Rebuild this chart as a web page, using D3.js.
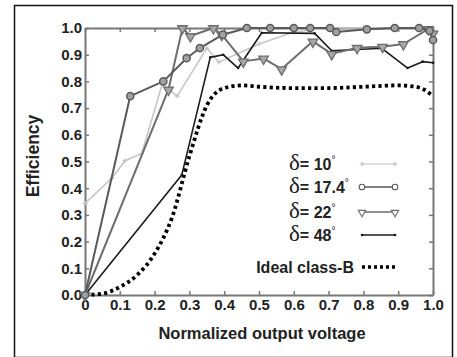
<!DOCTYPE html>
<html>
<head>
<meta charset="utf-8">
<script src="https://cdn.jsdelivr.net/npm/d3@7"></script>
<style>
  body { margin: 0; background: #fff; }
  svg { display: block; }
</style>
</head>
<body>
<div id="chart"></div>
<script>
// values
var xTicks = [0, 0.1, 0.2, 0.3, 0.4, 0.5, 0.6, 0.7, 0.8, 0.9, 1.0];
var xTickLabels = ["0", "0.1", "0.2", "0.3", "0.4", "0.5", "0.6", "0.7", "0.8", "0.9", "1.0"];
var yTicks = [0, 0.1, 0.2, 0.3, 0.4, 0.5, 0.6, 0.7, 0.8, 0.9, 1.0];
var yTickLabels = ["0.0", "0.1", "0.2", "0.3", "0.4", "0.5", "0.6", "0.7", "0.8", "0.9", "1.0"];

var d10x = [0, 0.077, 0.115, 0.163, 0.222, 0.265, 0.35, 0.385, 0.5, 0.6, 0.7, 0.8, 0.9, 1.0];
var d10y = [0.343, 0.437, 0.503, 0.53, 0.79, 0.745, 0.925, 0.872, 0.94, 0.985, 1.0, 1.0, 1.0, 1.0];

var d174x = [0, 0.13, 0.225, 0.292, 0.33, 0.396, 0.465, 0.532, 0.6, 0.647, 0.704, 0.722, 0.81, 0.89, 0.96, 0.99, 1.0];
var d174y = [0, 0.745, 0.80, 0.887, 0.925, 0.975, 1.0, 1.0, 1.0, 1.0, 1.0, 0.985, 0.995, 1.0, 1.0, 0.99, 0.955];

var d22x = [0, 0.24, 0.28, 0.303, 0.369, 0.393, 0.455, 0.513, 0.565, 0.655, 0.709, 0.782, 0.855, 0.915, 0.987, 1.0];
var d22y = [0, 0.77, 1.0, 0.97, 1.0, 0.975, 0.875, 0.886, 0.846, 0.95, 0.903, 0.926, 0.93, 0.94, 0.997, 0.98];

var d48x = [0, 0.278, 0.36, 0.397, 0.44, 0.508, 0.66, 0.709, 0.853, 0.927, 0.97, 1.0];
var d48y = [0, 0.449, 0.89, 0.9, 0.85, 0.982, 0.98, 0.915, 0.924, 0.85, 0.874, 0.87];

var idealX = [0, 0.05, 0.1, 0.15, 0.2, 0.25, 0.3, 0.35, 0.4, 0.45, 0.5, 0.6, 0.7, 0.8, 0.9, 0.95, 0.98, 1.0];
var idealY = [0, 0.005, 0.03, 0.075, 0.155, 0.29, 0.52, 0.71, 0.775, 0.785, 0.78, 0.775, 0.775, 0.78, 0.785, 0.78, 0.765, 0.745];

var width = 457, height = 357;
var plot = {left: 85, right: 433, top: 28, bottom: 295};

var svg = d3.select("#chart").append("svg")
    .attr("width", width)
    .attr("height", height);

// outer frame
svg.append("rect")
    .attr("x", 14.5).attr("y", 5.5)
    .attr("width", 438).attr("height", 352)
    .attr("fill", "none")
    .attr("stroke", "#111")
    .attr("stroke-width", 1.5);

var x = d3.scaleLinear().domain([0, 1]).range([plot.left, plot.right]);
var y = d3.scaleLinear().domain([0, 1]).range([plot.bottom, plot.top]);

var tickFont = "Liberation Sans, Arial, sans-serif";

function styleAxis(g) {
    g.select(".domain").attr("stroke", "#777").attr("stroke-width", 2);
    g.selectAll(".tick line").attr("stroke", "#777").attr("stroke-width", 1.5);
    g.selectAll(".tick text")
        .attr("fill", "#222")
        .style("font-family", tickFont)
        .style("font-weight", "bold")
        .style("font-size", "15px");
}

svg.append("g")
    .attr("transform", "translate(0," + plot.bottom + ")")
    .call(d3.axisBottom(x).tickValues(xTicks).tickSize(-4).tickSizeOuter(0).tickPadding(4)
        .tickFormat(function(d, i) { return xTickLabels[i]; }))
    .call(styleAxis);

svg.append("g")
    .attr("transform", "translate(" + plot.left + ",0)")
    .call(d3.axisLeft(y).tickValues(yTicks).tickSize(-4).tickSizeOuter(0).tickPadding(3)
        .tickFormat(function(d, i) { return yTickLabels[i]; }))
    .call(styleAxis);

svg.append("g")
    .attr("transform", "translate(0," + plot.top + ")")
    .call(d3.axisTop(x).tickValues(xTicks).tickSize(-4).tickSizeOuter(0).tickFormat(""))
    .call(styleAxis);

svg.append("g")
    .attr("transform", "translate(" + plot.right + ",0)")
    .call(d3.axisRight(y).tickValues(yTicks).tickSize(-4).tickSizeOuter(0).tickFormat(""))
    .call(styleAxis);

// axis titles
svg.append("text")
    .attr("x", 262)
    .attr("y", 339)
    .attr("text-anchor", "middle")
    .style("font-family", tickFont)
    .style("font-weight", "bold")
    .style("font-size", "16.5px")
    .attr("fill", "#222")
    .text("Normalized output voltage");

svg.append("text")
    .attr("transform", "translate(39,156) rotate(-90)")
    .attr("text-anchor", "middle")
    .style("font-family", tickFont)
    .style("font-weight", "bold")
    .style("font-size", "17.5px")
    .attr("fill", "#222")
    .text("Efficiency");

function zip(xs, ys) { return xs.map(function(v, i) { return [v, ys[i]]; }); }

var line = d3.line()
    .x(function(d) { return x(d[0]); })
    .y(function(d) { return y(d[1]); });

var series = [
    {name: "10", data: zip(d10x, d10y), color: "#c4c4c4", width: 1.5, marker: "plus"},
    {name: "48", data: zip(d48x, d48y), color: "#1a1a1a", width: 1.6, marker: "dot"},
    {name: "22", data: zip(d22x, d22y), color: "#6e6e6e", width: 2, marker: "tri"},
    {name: "17.4", data: zip(d174x, d174y), color: "#5a5a5a", width: 2, marker: "circle"}
];

var triBig = d3.symbol().type(d3.symbolTriangle).size(40);
var triSmall = d3.symbol().type(d3.symbolTriangle).size(24);

function drawMarker(g, kind, cx, cy, color, hollow) {
    if (kind === "circle") {
        g.append("circle").attr("cx", cx).attr("cy", cy).attr("r", hollow ? 2.8 : 3.6)
            .attr("fill", hollow ? "#fff" : "#a0a0a0").attr("stroke", color).attr("stroke-width", hollow ? 1.1 : 1.5);
    } else if (kind === "tri") {
        g.append("path").attr("d", hollow ? triSmall : triBig)
            .attr("transform", "translate(" + cx + "," + (cy + 0.5) + ") rotate(180)")
            .attr("fill", hollow ? "#fff" : "#a8a8a8").attr("stroke", color).attr("stroke-width", hollow ? 1.1 : 1.3);
    } else if (kind === "plus") {
        g.append("path").attr("d", "M" + (cx - 2.5) + "," + cy + "H" + (cx + 2.5) + "M" + cx + "," + (cy - 2.5) + "V" + (cy + 2.5))
            .attr("stroke", color).attr("stroke-width", 1.2);
    } else if (kind === "dot") {
        g.append("circle").attr("cx", cx).attr("cy", cy).attr("r", 1.3).attr("fill", color);
    }
}

// ideal class-B
svg.append("path")
    .datum(zip(idealX, idealY))
    .attr("d", line.curve(d3.curveMonotoneX))
    .attr("fill", "none")
    .attr("stroke", "#000")
    .attr("stroke-width", 3.8)
    .attr("stroke-dasharray", "3.2,3.2");

line.curve(d3.curveLinear);

series.forEach(function(s) {
    var g = svg.append("g");
    g.append("path")
        .datum(s.data)
        .attr("d", line)
        .attr("fill", "none")
        .attr("stroke", s.color)
        .attr("stroke-width", s.width)
        .attr("stroke-linejoin", "round");
    s.data.forEach(function(d, i) {
        if (s.marker === "dot" && i === 0) return;
        drawMarker(g, s.marker, x(d[0]), y(d[1]), s.color, false);
    });
});

// legend
var legendRows = [
    {label: "10", y: 164, marker: "plus", color: "#c4c4c4", width: 1.2},
    {label: "17.4", y: 187, marker: "circle", color: "#5a5a5a", width: 1.3},
    {label: "22", y: 212, marker: "tri", color: "#6e6e6e", width: 1.3},
    {label: "48", y: 235, marker: "dot", color: "#1a1a1a", width: 1.3}
];

var lg = svg.append("g");
legendRows.forEach(function(r) {
    var t = lg.append("text")
        .attr("x", 289)
        .attr("y", r.y + 6)
        .attr("fill", "#222")
        .style("font-family", tickFont)
        .style("font-weight", "bold")
        .style("font-size", "16px");
    t.append("tspan")
        .style("font-family", "Liberation Serif, DejaVu Serif, serif")
        .style("font-weight", "normal")
        .style("font-size", "23px")
        .text("δ");
    t.append("tspan").text("= " + r.label);
    t.append("tspan")
        .attr("dy", -7)
        .style("font-size", "10px")
        .style("font-weight", "normal")
        .text("°");
    lg.append("line")
        .attr("x1", 362).attr("x2", 395)
        .attr("y1", r.y).attr("y2", r.y)
        .attr("stroke", r.color).attr("stroke-width", r.width);
    drawMarker(lg, r.marker, 362, r.y, r.color, true);
    drawMarker(lg, r.marker, 395, r.y, r.color, true);
});

lg.append("text")
    .attr("x", 354)
    .attr("y", 273)
    .attr("text-anchor", "end")
    .attr("fill", "#222")
    .style("font-family", tickFont)
    .style("font-weight", "bold")
    .style("font-size", "16px")
    .text("Ideal class-B");

lg.append("line")
    .attr("x1", 362).attr("x2", 395)
    .attr("y1", 267).attr("y2", 267)
    .attr("stroke", "#000")
    .attr("stroke-width", 3.5)
    .attr("stroke-dasharray", "3,3");
</script>
</body>
</html>
